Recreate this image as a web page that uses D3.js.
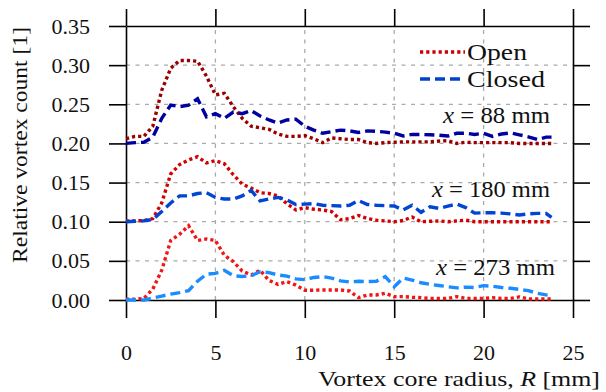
<!DOCTYPE html>
<html><head><meta charset="utf-8">
<script src="https://cdn.jsdelivr.net/npm/d3@7"></script>
<style>
body{margin:0;background:#fff}
svg{display:block}
</style>
</head><body>
<svg id="chart" width="606" height="392"></svg>
<script>
// ---- data ----
const radius = [0,0.5,1,1.5,2,2.5,3,3.5,4,4.5,5,5.5,6,6.5,7,7.5,8,8.5,9,9.5,10,10.5,11,11.5,12,12.5,13,13.5,14,14.5,15,15.5,16,16.5,17,17.5,18,18.5,19,19.5,20,20.5,21,21.5,22,22.5,23,23.5,23.8];

const stations = ["x = 88 mm","x = 180 mm","x = 273 mm"];
const offsets = [0.2, 0.1, 0.0];

const open88 = [0.006,0.009,0.009,0.022,0.068,0.096,0.106,0.106,0.105,0.086,0.062,0.064,0.047,0.032,0.022,0.020,0.018,0.012,0.009,0.009,0.010,0.006,0.001,0.007,0.006,0.005,0.005,0.001,0.000,0.001,0.0015,0.002,0.002,0.002,0.002,0.003,0.0035,0.000,0.0015,0.001,0.001,0.001,0.001,0.001,0.000,0.000,0.000,0.000,0.000];
const closed88 = [0.000,0.001,0.0015,0.008,0.032,0.049,0.047,0.049,0.057,0.034,0.038,0.032,0.040,0.038,0.042,0.035,0.030,0.026,0.030,0.031,0.022,0.017,0.013,0.015,0.017,0.016,0.014,0.016,0.0155,0.0145,0.013,0.0095,0.0115,0.0115,0.011,0.0105,0.0095,0.013,0.013,0.0115,0.013,0.009,0.012,0.0135,0.011,0.0085,0.005,0.008,0.008];
const open180 = [0.001,0.001,0.0015,0.004,0.024,0.061,0.073,0.079,0.083,0.075,0.078,0.074,0.060,0.048,0.043,0.037,0.036,0.033,0.023,0.015,0.018,0.016,0.015,0.013,0.0025,0.004,0.008,0.004,0.002,0.001,0.000,0.0015,0.006,0.000,0.0005,0.001,0.000,0.001,0.002,0.000,0.000,0.000,0.000,0.000,0.000,0.000,0.000,0.000,0.000];
const closed180 = [0.000,0.0005,0.001,0.003,0.013,0.024,0.033,0.033,0.036,0.037,0.031,0.029,0.029,0.033,0.040,0.0265,0.029,0.031,0.028,0.022,0.0225,0.023,0.021,0.0205,0.020,0.021,0.027,0.022,0.021,0.0205,0.020,0.015,0.021,0.012,0.019,0.017,0.020,0.0225,0.018,0.011,0.0115,0.0115,0.011,0.010,0.0085,0.010,0.0107,0.0105,0.0056];
const open273 = [0.001,0.001,0.002,0.014,0.038,0.076,0.084,0.095,0.076,0.078,0.076,0.057,0.049,0.037,0.032,0.038,0.025,0.020,0.0234,0.019,0.0125,0.0125,0.0128,0.0128,0.0128,0.0115,0.003,0.0064,0.0064,0.0086,0.0043,0.0043,0.0035,0.003,0.002,0.002,0.002,0.0043,0.002,0.002,0.002,0.003,0.002,0.002,0.004,0.0013,0.0013,0.0013,0.0013];
const closed273 = [0.000,0.000,0.000,0.0025,0.005,0.0075,0.0095,0.012,0.024,0.033,0.034,0.038,0.031,0.030,0.031,0.036,0.035,0.032,0.0305,0.027,0.026,0.0288,0.0298,0.028,0.0245,0.023,0.024,0.0235,0.024,0.0298,0.017,0.028,0.0255,0.022,0.020,0.0185,0.017,0.0155,0.0165,0.016,0.0183,0.0175,0.016,0.015,0.0135,0.012,0.0086,0.0065,0.0055];

const xTicks = [0,5,10,15,20,25];
const yTicks = [0,0.05,0.10,0.15,0.20,0.25,0.30,0.35];
const yTickLabels = ["0.00","0.05","0.10","0.15","0.20","0.25","0.30","0.35"];
const legendLabels = ["Open","Closed"];

// ---- styles ----
const openColors = ["#9b0000","#d40000","#f41414"];
const closedColors = ["#0000a0","#0046d2","#1a8cff"];
const legendColors = ["#cc0000","#0044cc"];
const dotDash = "3.2,3";
const longDash = "10,5";
const FONT = "font-family:'Liberation Serif', serif";

const svg = d3.select("#chart");
const x = d3.scaleLinear().domain([0,25]).range([126,573]);
const y = d3.scaleLinear().domain([0,0.35]).range([300,26]);

// grid
const grid = svg.append("g").attr("stroke","#aaa").attr("stroke-width",1.3).attr("stroke-dasharray","4,5.5");
grid.selectAll("line.h").data(yTicks.slice(1,-1)).join("line")
  .attr("x1",x(0)).attr("x2",x(25)).attr("y1",d=>y(d)).attr("y2",d=>y(d));
grid.selectAll("line.v").data(xTicks.slice(1,-1)).join("line")
  .attr("y1",y(0)).attr("y2",y(0.35)).attr("x1",d=>x(d)).attr("x2",d=>x(d));

// axes
function styleAxis(g){
  g.attr("font-family",null);
  g.selectAll("path.domain").attr("stroke","#000").attr("stroke-width",1.6);
  g.selectAll(".tick line").attr("stroke","#000").attr("stroke-width",1.6);
  g.selectAll("text").attr("style",FONT).attr("font-size",22).attr("fill","#111");
}
svg.append("g").attr("transform",`translate(0,${y(0)})`)
  .call(d3.axisBottom(x).tickValues(xTicks).tickSize(18).tickSizeOuter(0).tickPadding(26).tickFormat(d3.format("d")))
  .call(styleAxis);
svg.append("g").attr("transform",`translate(0,${y(0.35)})`)
  .call(d3.axisTop(x).tickValues(xTicks).tickSize(17).tickSizeOuter(0).tickFormat(""))
  .call(styleAxis);
svg.append("g").attr("transform",`translate(${x(0)},0)`)
  .call(d3.axisLeft(y).tickValues(yTicks).tickSize(17).tickSizeOuter(0).tickPadding(19).tickFormat((d,i)=>yTickLabels[i]))
  .call(styleAxis);
svg.append("g").attr("transform",`translate(${x(25)},0)`)
  .call(d3.axisRight(y).tickValues(yTicks).tickSize(17).tickSizeOuter(0).tickFormat(""))
  .call(styleAxis);

// axis titles
const xt = svg.append("text").attr("x",600).attr("y",386).attr("text-anchor","end").attr("font-size",22)
  .attr("style",FONT).attr("fill","#111").attr("textLength",282).attr("lengthAdjust","spacingAndGlyphs");
xt.append("tspan").text("Vortex core radius, ");
xt.append("tspan").attr("font-style","italic").text("R");
xt.append("tspan").text(" [mm]");
svg.append("text").attr("transform","translate(27,145) rotate(-90)").attr("text-anchor","middle")
  .attr("font-size",22).attr("style",FONT).attr("fill","#111")
  .attr("textLength",236).attr("lengthAdjust","spacingAndGlyphs").text("Relative vortex count [1]");

// series
const line = d3.line().x((d,i)=>x(radius[i])).y(d=>y(d));
const openSeries = [open88, open180, open273];
const closedSeries = [closed88, closed180, closed273];
const plot = svg.append("g").attr("fill","none").attr("stroke-width",3.4);
openSeries.forEach((s,k)=>{
  plot.append("path").datum(s.map(v=>v+offsets[k])).attr("d",line)
    .attr("stroke",openColors[k]).attr("stroke-dasharray",dotDash);
});
closedSeries.forEach((s,k)=>{
  plot.append("path").datum(s.map(v=>v+offsets[k])).attr("d",line)
    .attr("stroke",closedColors[k]).attr("stroke-dasharray",longDash);
});

// station labels
const stationPos = [[550,123],[550,197],[555,275]];
const stationLen = [107,118,119];
stations.forEach((s,k)=>{
  const t = svg.append("text").attr("x",stationPos[k][0]).attr("y",stationPos[k][1]).attr("text-anchor","end")
    .attr("font-size",23).attr("style",FONT).attr("fill","#111")
    .attr("textLength",stationLen[k]).attr("lengthAdjust","spacingAndGlyphs");
  t.append("tspan").attr("font-style","italic").text("x");
  t.append("tspan").text(s.slice(1));
});

// legend
const legendLen = [60,78];
const lg = svg.append("g");
legendLabels.forEach((l,i)=>{
  const yy = 52 + i*27;
  lg.append("line").attr("x1",420).attr("x2",465).attr("y1",yy).attr("y2",yy)
    .attr("stroke",legendColors[i]).attr("stroke-width",3.4)
    .attr("stroke-dasharray", i===0 ? dotDash : longDash);
  lg.append("text").attr("x",467).attr("y",yy+8).attr("font-size",23).attr("style",FONT).attr("fill","#111")
    .attr("textLength",legendLen[i]).attr("lengthAdjust","spacingAndGlyphs").text(l);
});
</script>
</body></html>
